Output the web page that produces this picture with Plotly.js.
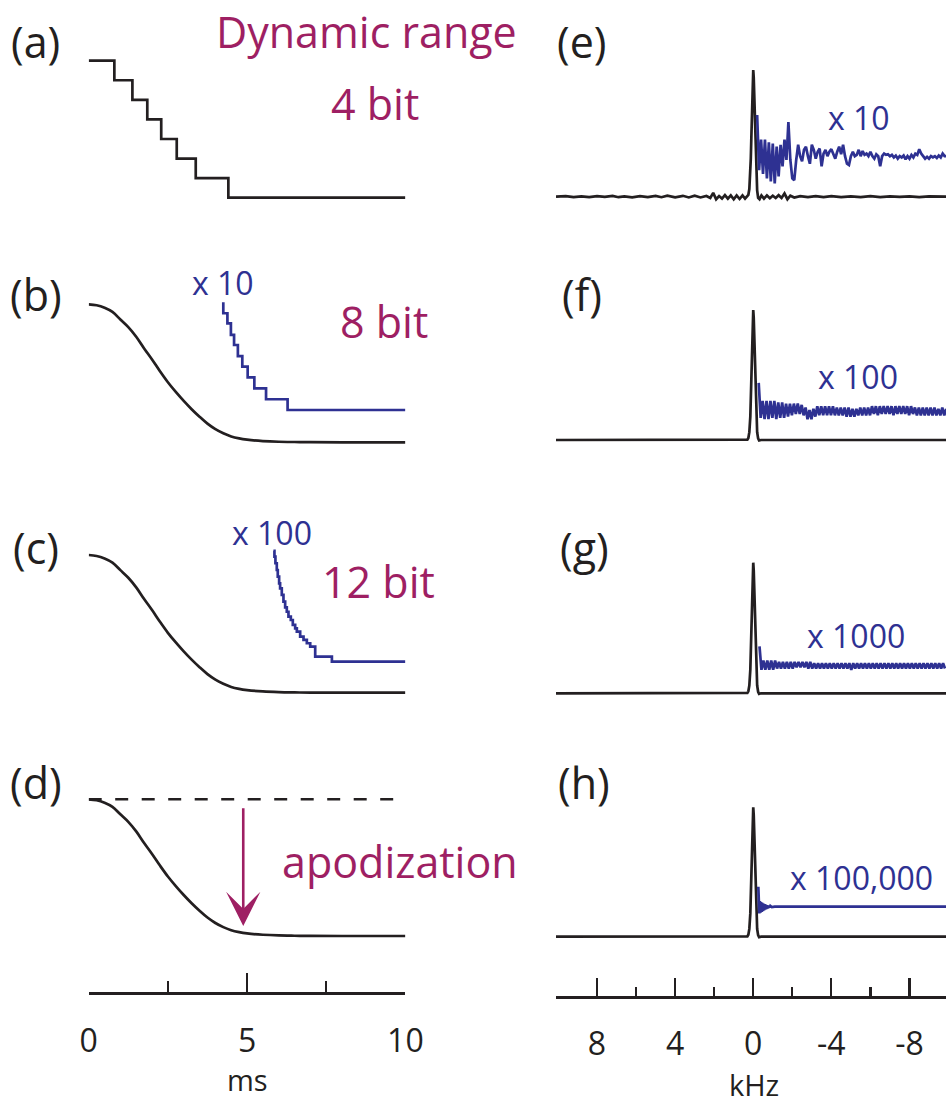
<!DOCTYPE html>
<html><head><meta charset="utf-8">
<script src="https://cdn.plot.ly/plotly-3.0.1.min.js"></script>
<style>html,body{margin:0;padding:0;background:#fff}#chart{width:946px;height:1105px}</style>
</head><body><div id="chart"></div>
<script>
// ---------------- DATA ----------------
// (a) 4-bit quantised FID: step positions (ms) and level (in LSB)
const stairA_t = [0, 0.81, 1.38, 1.85, 2.29, 2.78, 3.38, 4.41, 10];
const stairA_level = [7, 6, 5, 4, 3, 2, 1, 0, 0];

// Gaussian-like FID (normalised amplitude) for (b), (c), (d)
const fidT = [0, 0.25, 0.5, 0.75, 1, 1.25, 1.5, 1.75, 2, 2.25, 2.5, 2.75, 3, 3.25, 3.5, 3.75, 4, 4.25, 4.5, 4.75, 5, 5.5, 6, 6.5, 7, 8, 10];
const fidAmp = [1, 0.993, 0.975, 0.945, 0.89, 0.835, 0.765, 0.68, 0.6, 0.515, 0.435, 0.365, 0.3, 0.24, 0.185, 0.135, 0.095, 0.065, 0.042, 0.028, 0.019, 0.009, 0.004, 0.002, 0.001, 0, 0];

// (b) x10 magnified tail, 8-bit steps (displayed values)
const tailB_t = [4.25, 4.25, 4.38, 4.49, 4.59, 4.71, 4.85, 5.02, 5.23, 5.60, 6.28, 10];
const tailB_v = [1.014, 0.935, 0.862, 0.778, 0.705, 0.625, 0.548, 0.471, 0.391, 0.312, 0.234, 0.234];

// (c) x100 magnified tail, 12-bit steps (displayed values)
const tailC_t = [5.833, 5.865, 5.896, 5.939, 5.970, 6.013, 6.044, 6.097, 6.150, 6.203, 6.255, 6.308, 6.382, 6.445, 6.519, 6.572, 6.677, 6.783, 6.888, 6.994, 7.152, 7.679, 10];
const tailC_v = [1.031, 0.988, 0.940, 0.891, 0.843, 0.794, 0.758, 0.710, 0.661, 0.620, 0.588, 0.552, 0.528, 0.492, 0.467, 0.443, 0.407, 0.383, 0.359, 0.334, 0.262, 0.225, 0.225];

// (d) reference level (no apodization)
const refD_t = [0, 10];
const refD_v = [1, 1];
const arrowD = {t: 4.88, from: 0.946, to: 0.073};

// (e) spectrum of 4-bit FID (black) — kHz / normalised
const specE_k = [10.1, 9.6, 9.2, 8.8, 8.4, 8.0, 7.6, 7.2, 6.9, 6.6, 6.2, 5.8, 5.4, 5.0, 4.7, 4.4, 4.0, 3.6, 3.3, 3.0, 2.7, 2.4, 2.2, 2.05, 1.9, 1.75, 1.6, 1.45, 1.3, 1.15, 1.0, 0.85, 0.7, 0.55, 0.42, 0.32, 0.25, 0.2, 0.15, 0.125, 0.1, 0.075, 0.05, 0.025, 0, -0.025, -0.05, -0.075, -0.1, -0.125, -0.15, -0.2, -0.25, -0.32, -0.42, -0.55, -0.7, -0.85, -1.0, -1.15, -1.3, -1.45, -1.6, -1.75, -1.9, -2.1, -2.4, -2.8, -3.2, -3.6, -4.0, -4.5, -5.0, -5.5, -6.0, -6.5, -7.0, -7.5, -8.0, -8.5, -9.0, -9.5, -9.9];
const specE_v = [0, 0.004, -0.004, 0.003, -0.003, 0.004, -0.002, 0.006, -0.004, 0.003, -0.005, 0.004, -0.003, 0.006, -0.004, 0.008, -0.005, 0.007, -0.006, 0.008, -0.006, 0.006, -0.01, 0.03, -0.02, 0.005, -0.015, 0.012, -0.015, 0.01, -0.02, 0.01, -0.018, 0.01, -0.015, 0.005, 0.015, 0.06, 0.18, 0.3, 0.45, 0.62, 0.8, 0.94, 1, 0.94, 0.8, 0.62, 0.45, 0.3, 0.18, 0.05, -0.01, -0.02, 0.01, -0.015, 0.01, -0.012, 0.008, -0.01, 0.012, -0.01, 0.025, -0.02, 0.008, -0.006, 0.005, -0.004, 0.005, -0.003, 0.004, -0.004, 0.003, -0.003, 0.004, -0.003, 0.003, -0.002, 0.003, -0.003, 0.002, -0.002, 0];

// (f),(g),(h) clean spectrum line (black)
const specClean_k = [10.1, 0.4, 0.3, 0.25, 0.2, 0.15, 0.125, 0.1, 0.075, 0.05, 0.025, 0, -0.025, -0.05, -0.075, -0.1, -0.125, -0.15, -0.2, -0.25, -0.3, -0.4, -9.9];
const specClean_v = [0, 0, 0.003, 0.015, 0.06, 0.18, 0.3, 0.45, 0.62, 0.8, 0.94, 1, 0.94, 0.8, 0.62, 0.45, 0.3, 0.18, 0.06, 0.012, -0.004, 0, 0];

// magnified baselines (blue), sampled every 0.1 kHz from their start
const magE_start = -0.2;
const magE = [0.645, 0.21, 0.45, 0.18, 0.45, 0.145, 0.43, 0.12, 0.42, 0.105, 0.395, 0.16, 0.41, 0.24, 0.45, 0.29, 0.59, 0.29, 0.145, 0.13, 0.29, 0.41, 0.32, 0.28, 0.37, 0.395, 0.32, 0.26, 0.41, 0.37, 0.30, 0.355, 0.38, 0.24, 0.34, 0.37, 0.32, 0.355, 0.375, 0.33, 0.30, 0.355, 0.395, 0.335, 0.41, 0.32, 0.26, 0.25, 0.32, 0.355, 0.32, 0.33, 0.37, 0.32, 0.36, 0.33, 0.34, 0.32, 0.355, 0.32, 0.30, 0.335, 0.32, 0.24, 0.32, 0.34, 0.33, 0.335, 0.32, 0.33, 0.31, 0.325, 0.30, 0.32, 0.31, 0.325, 0.295, 0.32, 0.30, 0.33, 0.31, 0.34, 0.33, 0.375, 0.34, 0.32, 0.30, 0.315, 0.30, 0.32, 0.31, 0.32, 0.305, 0.325, 0.31, 0.34, 0.32, 0.32];
const magF_start = -0.28;
const magF = [0.44, 0.17, 0.30, 0.16, 0.30, 0.16, 0.30, 0.17, 0.30, 0.16, 0.29, 0.17, 0.29, 0.17, 0.28, 0.18, 0.28, 0.19, 0.28, 0.20, 0.28, 0.20, 0.27, 0.19, 0.25, 0.16, 0.23, 0.16, 0.24, 0.18, 0.26, 0.19, 0.26, 0.19, 0.26, 0.19, 0.26, 0.19, 0.26, 0.19, 0.25, 0.19, 0.25, 0.19, 0.25, 0.18, 0.25, 0.18, 0.24, 0.18, 0.24, 0.19, 0.25, 0.19, 0.25, 0.19, 0.25, 0.19, 0.26, 0.20, 0.26, 0.19, 0.26, 0.20, 0.26, 0.20, 0.26, 0.20, 0.26, 0.19, 0.26, 0.20, 0.26, 0.20, 0.26, 0.20, 0.26, 0.19, 0.26, 0.20, 0.25, 0.19, 0.25, 0.19, 0.25, 0.19, 0.25, 0.19, 0.25, 0.19, 0.25, 0.19, 0.24, 0.19, 0.25, 0.19, 0.24];
const magG_start = -0.32;
const magG = [0.36, 0.18, 0.25, 0.18, 0.25, 0.18, 0.25, 0.18, 0.25, 0.19, 0.24, 0.19, 0.24, 0.19, 0.24, 0.19, 0.24, 0.19, 0.24, 0.20, 0.24, 0.20, 0.24, 0.20, 0.24, 0.19, 0.24, 0.19, 0.23, 0.19, 0.23, 0.19, 0.23, 0.19, 0.23, 0.19, 0.23, 0.19, 0.23, 0.19, 0.23, 0.19, 0.23, 0.19, 0.23, 0.19, 0.23, 0.18, 0.23, 0.19, 0.23, 0.19, 0.23, 0.19, 0.23, 0.19, 0.23, 0.19, 0.23, 0.19, 0.23, 0.19, 0.23, 0.19, 0.23, 0.19, 0.23, 0.19, 0.23, 0.19, 0.23, 0.19, 0.23, 0.19, 0.23, 0.19, 0.23, 0.19, 0.23, 0.19, 0.23, 0.19, 0.23, 0.19, 0.23, 0.19, 0.23, 0.19, 0.23, 0.19, 0.23, 0.19, 0.23, 0.19, 0.23, 0.19];
const magH_k = [-0.26, -0.28, -0.31, -0.34, -0.37, -0.40, -0.43, -0.46, -0.49, -0.52, -0.55, -0.58, -0.61, -0.64, -0.67, -0.70, -0.73, -0.76, -0.79, -0.82, -0.85, -0.88, -0.95, -1.1, -1.4, -2.0, -3.5, -5.5, -7.5, -9.9];
const magH = [0.386, 0.28, 0.18, 0.275, 0.185, 0.268, 0.192, 0.262, 0.198, 0.256, 0.204, 0.251, 0.209, 0.247, 0.214, 0.244, 0.218, 0.241, 0.222, 0.239, 0.225, 0.237, 0.229, 0.233, 0.232, 0.232, 0.233, 0.232, 0.232, 0.232];
const magStep = -0.1;

// axis ticks and titles
const msTicks = [0, 5, 10];
const msTickText = ['0', '5', '10'];
const msMinor = [2.5, 7.5];
const kHzTicks = [8, 4, 0, -4, -8];
const kHzTickText = ['8', '4', '0', '-4', '-8'];
const kHzMinor = [6, 2, -2, -6];
const axisTitles = ['ms', 'kHz'];

// texts
const panelLabels = ['(a)', '(b)', '(c)', '(d)', '(e)', '(f)', '(g)', '(h)'];
const magentaTexts = ['Dynamic range', '4 bit', '8 bit', '12 bit', 'apodization'];
const blueTexts = ['x 10', 'x 100', 'x 10', 'x 100', 'x 1000', 'x 100,000'];

// ---------------- LAYOUT / STYLE ----------------
const W = 946, H = 1105;
const fx = px => px / W;
const fy = py => 1 - py / H;
const BLACK = '#231F20', BLUE = '#2E3192', MAGENTA = '#9E1F63';
const FONT = 'Open Sans, sans-serif';

function yAx(basePx, topPx, topVal, lo, hi) {
  const s = (basePx - topPx) / topVal;
  return {domain: [fy(basePx - lo * s), fy(basePx - hi * s)], range: [lo, hi],
          visible: false, showgrid: false, zeroline: false, fixedrange: true};
}
const leftX = () => ({domain: [fx(88.7), fx(405.4)], range: [0, 10], visible: false, showgrid: false, zeroline: false, fixedrange: true});
const rightX = () => ({domain: [fx(556), 1], range: [10.10, -9.87], visible: false, showgrid: false, zeroline: false, fixedrange: true});

const layout = {
  width: W, height: H, margin: {l: 0, r: 0, t: 0, b: 0},
  paper_bgcolor: '#fff', plot_bgcolor: 'rgba(0,0,0,0)', showlegend: false,
  font: {family: FONT, color: BLACK},
  xaxis: leftX(), xaxis2: leftX(), xaxis3: leftX(), xaxis4: leftX(),
  xaxis5: rightX(), xaxis6: rightX(), xaxis7: rightX(), xaxis8: rightX(),
  yaxis: yAx(197.7, 60.7, 7, -1, 8),
  yaxis2: yAx(442.3, 304.3, 1, -0.15, 1.15),
  yaxis3: yAx(692.7, 555, 1, -0.15, 1.15),
  yaxis4: yAx(936, 799.3, 1, -(992.3 - 936) / 136.7, 1.15),
  yaxis5: yAx(196.7, 70, 1, -0.15, 1.15),
  yaxis6: yAx(440, 310, 1, -0.15, 1.15),
  yaxis7: yAx(693.3, 562.7, 1, -0.15, 1.15),
  yaxis8: yAx(936.7, 807.3, 1, -(996 - 936.7) / 129.4, 1.15),
  annotations: []
};
for (let i = 1; i <= 8; i++) {
  const k = i === 1 ? '' : String(i);
  layout['xaxis' + k].anchor = 'y' + k;
  layout['yaxis' + k].anchor = 'x' + k;
}
function bottomAxis(ax, vals, txt, minor, len, mlen, standoff) {
  Object.assign(ax, {
    visible: true, showline: true, linecolor: BLACK, linewidth: 2.6,
    ticks: 'inside', ticklen: len, tickwidth: 2.2, tickcolor: BLACK,
    tickmode: 'array', tickvals: vals, ticktext: txt,
    minor: {tickmode: 'array', tickvals: minor, ticks: 'inside', ticklen: mlen, tickwidth: 2.2, tickcolor: BLACK, showgrid: false},
    tickfont: {family: FONT, size: 32, color: BLACK}, ticklabelstandoff: standoff
  });
}
bottomAxis(layout.xaxis4, msTicks, msTickText, msMinor, 19, 11, 19);
bottomAxis(layout.xaxis8, kHzTicks, kHzTickText, kHzMinor, 18, 9.5, 18);

const panelPos = [[35.5, 42], [35.5, 295], [35.5, 547], [35.5, 782], [582, 42], [582, 295], [584, 547], [584, 782]];
const magentaPos = [[366, 31.3], [375, 103.3], [384, 321.3], [378, 581.3], [400, 861.3]];
const bluePos = [[222.5, 282.6], [272, 532.6], [859, 117.6], [858, 376.6], [856, 635.6], [861, 877.6]];
const titlePos = [[247, 1079], [754, 1084]];
function addText(txt, pos, font) {
  layout.annotations.push({text: txt, xref: 'paper', yref: 'paper', x: fx(pos[0]), y: fy(pos[1]),
    xanchor: 'center', yanchor: 'middle', showarrow: false, font: font});
}
panelLabels.forEach((t, i) => addText(t, panelPos[i], {family: FONT, size: 43, color: BLACK}));
magentaTexts.forEach((t, i) => addText(t, magentaPos[i], {family: FONT, size: 43, color: MAGENTA}));
blueTexts.forEach((t, i) => addText(t, bluePos[i], {family: FONT, size: 32, color: BLUE}));
axisTitles.forEach((t, i) => addText(t, titlePos[i], {family: FONT, size: 29, color: BLACK}));
// apodization arrow
layout.annotations.push({xref: 'x4', yref: 'y4', axref: 'x4', ayref: 'y4', x: arrowD.t, y: arrowD.to,
  ax: arrowD.t, ay: arrowD.from, text: '', showarrow: true, arrowhead: 3, arrowsize: 2.2,
  arrowwidth: 2.6, arrowcolor: MAGENTA, standoff: 0});

// ---------------- TRACES ----------------
const LW = 2.7;
const line = (x, y, xa, ya, color, shape, extra) => Object.assign({
  type: 'scatter', mode: 'lines', x: x, y: y, xaxis: xa, yaxis: ya, hoverinfo: 'skip',
  line: {color: color, width: LW, shape: shape || 'linear'}
}, extra || {});
const traces = [
  line(stairA_t, stairA_level, 'x', 'y', BLACK, 'hv'),
  line(fidT, fidAmp, 'x2', 'y2', BLACK, 'spline'),
  line(tailB_t, tailB_v, 'x2', 'y2', BLUE, 'hv'),
  line(fidT, fidAmp, 'x3', 'y3', BLACK, 'spline'),
  line(tailC_t, tailC_v, 'x3', 'y3', BLUE, 'hv'),
  line(refD_t, refD_v, 'x4', 'y4', BLACK, 'linear'),
  line(fidT, fidAmp, 'x4', 'y4', BLACK, 'spline'),
  line(specE_k, specE_v, 'x5', 'y5', BLACK, 'linear'),
  line(null, magE, 'x5', 'y5', BLUE, 'linear', {x0: magE_start, dx: magStep}),
  line(specClean_k, specClean_v, 'x6', 'y6', BLACK, 'linear'),
  line(null, magF, 'x6', 'y6', BLUE, 'linear', {x0: magF_start, dx: magStep}),
  line(specClean_k, specClean_v, 'x7', 'y7', BLACK, 'linear'),
  line(null, magG, 'x7', 'y7', BLUE, 'linear', {x0: magG_start, dx: magStep}),
  line(specClean_k, specClean_v, 'x8', 'y8', BLACK, 'linear'),
  line(magH_k, magH, 'x8', 'y8', BLUE, 'linear')
];
traces[5].line.dash = '13px,13.5px';
traces[5].line.width = 2.6;
traces.forEach(t => { if (t.x === null) delete t.x; });

Plotly.newPlot('chart', traces, layout, {displayModeBar: false, staticPlot: true});
</script>
</body></html>
